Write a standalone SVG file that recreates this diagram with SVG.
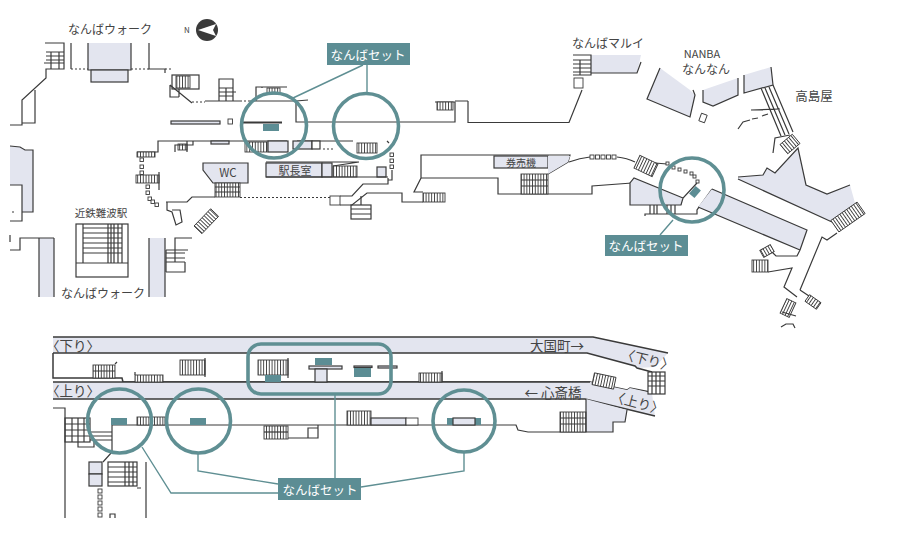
<svg xmlns="http://www.w3.org/2000/svg" width="900" height="542" viewBox="0 0 900 542">
<style>
text{font-family:"Noto Sans CJK JP","Liberation Sans",sans-serif;fill:#444;text-anchor:middle;dominant-baseline:central}
.w{fill:none;stroke:#3a3a3a;stroke-width:1.2}
.l{fill:#e3e5ef;stroke:none}
.lw{fill:#e3e5ef;stroke:#3a3a3a;stroke-width:1.2}
.d{fill:none;stroke:#3a3a3a;stroke-width:1.1;stroke-dasharray:2 2}
.s{fill:url(#v);stroke:#3a3a3a;stroke-width:.9}
.h{fill:url(#hz);stroke:#3a3a3a;stroke-width:.9}
.sq{fill:#fff;stroke:#3a3a3a;stroke-width:.9}
.t{fill:#5c8d94;stroke:none}
.c{fill:none;stroke:#5f8f93;stroke-width:3.6}
.ld{fill:none;stroke:#5f8f93;stroke-width:1.4}
.b{fill:#5c8d94}
.bt{fill:#fff;font-size:12.5px}
.lab{font-size:13.5px}
</style>
<defs>
<pattern id="v" patternUnits="userSpaceOnUse" width="2.8" height="4"><rect width="2.8" height="4" fill="#fff"/><rect width=".9" height="4" fill="#3a3a3a"/></pattern>
<pattern id="hz" patternUnits="userSpaceOnUse" width="4" height="4.4"><rect width="4" height="4.4" fill="#fff"/><rect width="4" height=".9" fill="#3a3a3a"/></pattern>
</defs>
<rect width="900" height="542" fill="#fff"/>

<g id="plan-upper">
<polygon class="l" points="10,146 20,147 25,150 33,150 33,212 22,212 22,185 10,185"/>
<path class="w" d="M10,146 20,147 25,150 33,150V212H22M10,185H22V221H10M12,212h2M10,235v7"/>
<rect class="l" x="39" y="238" width="15" height="59"/>
<path class="w" d="M39,238V297M54,238V297M10,250H20V238H54"/>
<rect class="l" x="149" y="238" width="16" height="59"/>
<path class="w" d="M149,238V297M165,238V297"/>
<path class="w" d="M45,43H64V69H46V78L22,100V125H10M35,90V123H22M71,43V69M149,43V69H165V73M46,52H64M46,56H64M46,60H64M44,63H64M51,52V69M59,52V69"/>
<path class="d" d="M71,69H90M131,69H149M165,69H173"/>
<polygon class="l" points="88,43 131,43 131,70 88,70"/>
<path class="w" d="M88,43V70H131V43"/>
<rect class="lw" x="91" y="70" width="37" height="12"/>
<rect class="w" x="172" y="75" width="27" height="14"/><rect class="s" x="176" y="76" width="14" height="12"/>
<path class="w" d="M170,85V97H179M170,85 192,103M179,89V97"/>
<path class="d" d="M192,102H205M240,101H250"/>
<path class="w" d="M205,101H240M250,101H296V122H455V102H435M468,101V122.500H569L582,90"/>
<path class="w" d="M468,101H455M219,101V79H233V101M219,88H233M219,92H236M219,96H233M226,88V101"/>
<rect class="s" x="267" y="88" width="13" height="6"/><path class="w" d="M256,101V87H287M262,87V88M296,101 308,100"/>
<rect class="s" x="437" y="102" width="16" height="8"/>
<rect class="lw" x="171" y="121" width="49" height="3"/><rect class="sq" x="228" y="119" width="4.500" height="5"/>
<path d="M240,122.500H282" class="w" style="stroke-width:2"/><rect class="t" x="263" y="124" width="16" height="7"/>
<path class="w" d="M137,152H158V141H240M240,141H287V141M297,141H353M387,141 389,143"/>
<rect class="s" x="137" y="152" width="18" height="5"/><rect class="sq" x="140" y="158" width="3.500" height="3.500"/><rect class="sq" x="140" y="165" width="3.500" height="3.500"/><rect class="sq" x="140" y="171" width="3.500" height="3.500"/>
<rect class="s" x="136" y="175" width="23" height="8"/><path class="w" d="M159,172V190"/>
<g class="sq"><rect x="146" y="185" width="3.500" height="3.500"/><rect x="146" y="191" width="3.500" height="3.500"/><rect x="148" y="197" width="3.500" height="3.500"/><rect x="151" y="200" width="3.500" height="3.500"/><rect x="155" y="203" width="3.500" height="3.500"/></g>
<rect class="s" x="178" y="144" width="9" height="6"/><path class="w" d="M175,152V145H193V141M187,141V152"/>
<rect class="lw" x="211" y="141" width="18" height="3"/>
<rect class="s" x="245" y="142" width="22" height="10"/>
<rect class="lw" x="268" y="141" width="20" height="11"/>
<polygon class="lw" points="203,163 248,163 248,183 213,183 203,170"/>
<text x="228" y="172" font-size="11.500">WC</text>
<rect class="s" x="215" y="183" width="25" height="14"/><path class="w" d="M215,187H240M215,192H240"/>
<path class="w" d="M166,202H187L192,197H215M340,196H352L363,184H388V178M392,170V180H388M340,205H352L367,193H402V202H423"/>
<path class="d" d="M240,197.500H330"/>
<rect class="sq" x="330" y="196" width="10" height="9"/>
<path class="w" d="M167,202V210L172,212 176,225 182,222 180,210H172"/>
<rect class="s" x="0" y="0" width="24" height="11" transform="translate(194,226) rotate(-46)"/>
<path class="w" d="M192,238H175V250M166,250H188M166,253H185M166,258H185M166,262H185M166,272H185V262M166,250V272M175,250V262"/>
<rect class="w" x="76" y="224" width="52" height="53"/><path class="w" d="M83,224V263M122,224V263M76,263H128M83,228H122M83,233H122M83,238H122M83,243H122M83,248H122M83,253H122M108,224V263M111,224V263M114,224V263M118,224V263"/>
<rect class="lw" x="293" y="141" width="19" height="8"/><rect class="lw" x="312" y="141" width="8" height="8" style="fill:#fff"/>
<path class="d" d="M323,149H333"/>
<rect class="s" x="357" y="143" width="20" height="10"/>
<path class="w" d="M266,162H359M359,162 333,166"/>
<rect class="lw" x="266" y="163" width="56" height="14"/><text x="295" y="170" font-size="11">駅長室</text>
<rect class="lw" x="322" y="163" width="10" height="14"/>
<rect class="s" x="333" y="166" width="24" height="11"/><rect class="lw" x="377" y="167" width="9" height="10"/>
<path class="w" d="M266,177H388"/>
<g class="sq"><rect x="390" y="153" width="3.500" height="3.500"/><rect x="390" y="159" width="3.500" height="3.500"/><rect x="390" y="165" width="3.500" height="3.500"/></g>
<rect class="w" x="351" y="205" width="20" height="14"/><path class="w" d="M351,209H371M351,214H371M361,196V205"/>
<rect class="s" x="423" y="193" width="22" height="9"/>
<path class="w" d="M421,178V155H570L568,162 548,174M421,178H498V194H592V186L632,183M421,178 414,192H423"/>
<rect class="lw" x="494" y="156" width="54" height="12"/><text x="521" y="162" font-size="10">券売機</text>
<polygon class="l" points="548,156 570,156 568,162 548,174"/>
<rect class="s" x="521" y="174" width="27" height="20"/><path class="w" d="M521,180H548M521,186H548"/>
<path class="w" d="M569,162 Q580,158 590,157M617,157Q627,158 635,162"/>
<g class="sq"><rect x="590" y="155" width="4" height="4"/><rect x="595.500" y="155" width="4" height="4"/><rect x="601" y="155" width="4" height="4"/><rect x="606.500" y="155" width="4" height="4"/><rect x="612" y="155" width="4" height="4"/></g>
<rect class="s" x="-10" y="-7" width="20" height="14" transform="translate(646,166) rotate(25)"/>
<path class="w" d="M655,163 667,164"/>
<g class="sq"><rect x="666" y="162" width="3" height="3"/><rect x="672" y="166" width="3" height="3"/><rect x="678" y="168" width="3" height="3"/><rect x="684" y="170" width="3" height="3"/><rect x="690" y="172" width="3" height="3"/><rect x="693" y="175" width="3" height="3"/><rect x="696" y="180" width="3" height="3"/></g>
<rect class="t" x="-5" y="-3.500" width="10" height="7" transform="translate(695,192) rotate(-50)"/>
<polygon class="l" points="634,178 682,198 682,205 630,205 630,183"/>
<path class="w" d="M697,183 683,198 681,205H630V183L634,178 683,198"/>
<path class="w" d="M645,216V214H675H697V210L712,189M654,205V214M671,205V214M650,205V214M657,205V214M667,205V214M675,205V214"/>
<polygon class="l" points="712,189 807,230 800,250 698,207"/>
<path class="w" d="M712,189 807,230 800,250M698,207 800,250M800,250 797,256H776L770,250"/>
<rect class="s" x="-6" y="-4" width="12" height="8" transform="translate(767,251) rotate(-30)"/>
<rect class="s" x="752" y="260" width="16" height="12"/><path class="w" d="M768,272 792,268 784,287 797,297M800,290 822,237 827,240 837,233"/>
<rect class="s" x="-5" y="-8" width="10" height="16" transform="translate(788,308) rotate(25)"/>
<rect class="s" x="-7" y="-4" width="14" height="8" transform="translate(813,302) rotate(35)"/>
<path class="w" d="M800,290 809,296M782,312 796,316M781,327 786,324H793L795,328"/>
<polygon class="l" points="738,177 763,175 767,168 775,173 798,148 806,185 827,194 850,185 855,203 832,222 738,179"/>
<path class="w" d="M738,177 763,175 767,168 775,173 798,148 806,185 827,194 850,185M738,179 832,222"/>
<rect class="s" x="-16" y="-7" width="32" height="14" transform="translate(848,217) rotate(-35)"/>
<path class="w" d="M765,88 785,135M769,87 789,134M773,85 793,132M761,88 781,136M751,110 780,109"/>
<path class="w" d="M773,153 775,138 790,135"/>
<rect class="s" x="-8" y="-6" width="16" height="12" transform="translate(790,144) rotate(-40)"/>
<path class="w" d="M738,129 743,122 750,120M752,119 758,118M762,116 768,114"/>
<polygon class="l" points="660,68 647,99 690,117 695,95 690,90"/>
<path class="w" d="M660,68 647,99 690,117 695,95 693,90"/>
<polygon class="l" points="703,90 703,102 713,106 738,95 738,78"/>
<path class="w" d="M703,90V102L713,106 738,95V78"/>
<polygon class="l" points="771,67 744,75 744,93 773,85"/>
<path class="w" d="M771,67 773,85 744,93V75"/>
<rect class="sq" x="-3" y="-4" width="6" height="8" transform="translate(703,118) rotate(20)"/>
<polygon class="l" points="591,55 641,55 637,73 591,73"/>
<path class="w" d="M641,62 637,73H591"/>
<path class="w" d="M573,55H591V75H573M573,60H591M573,64H591M573,68H591M573,72H591M580,60V75"/>
<rect class="sq" x="574" y="78" width="9" height="10"/>
</g>

<g id="plan-lower">
<polygon class="l" points="53,337 593,337 668,353 655,367 637,368 635,366 587,353 53,353"/>
<path class="w" d="M53,337H593L668,353M53,353H587L635,366 637,368 652,372M53,353V378H122L123,382H590L627,390 630,388 650,392" style="stroke-width:1.500"/>
<polygon class="l" points="53,382 590,382 627,390 630,388 652,393 655,416 585,399 53,399"/>
<path class="w" d="M53,382H590M53,399H585L655,416" style="stroke-width:1.500"/>
<rect x="648" y="372" width="17" height="22" class="w" style="fill:#fff"/><path class="w" d="M652,372V394M656,372V394M660,372V394M648,376H665M648,381H665M648,386H665"/>
<rect class="s" x="93" y="365" width="22" height="13"/><path class="w" d="M93,371H115M115,364 117,362"/>
<rect class="s" x="135" y="375" width="28" height="7"/><path class="w" d="M135,372V375"/>
<rect class="s" x="180" y="360" width="25" height="15"/><path class="w" d="M205,358V377"/>
<rect class="s" x="258" y="360" width="30" height="15"/><path class="w" d="M288,358V378"/>
<rect class="t" x="265" y="375" width="16" height="7"/>
<rect class="t" x="315" y="358" width="17" height="7"/><rect class="lw" x="309" y="366" width="33" height="3"/><rect class="lw" x="315" y="369" width="12" height="13"/>
<rect class="lw" x="354" y="366" width="18" height="1.500"/><rect class="t" x="354" y="368" width="17" height="9"/><rect class="lw" x="378" y="366" width="19" height="2"/>
<rect class="s" x="419" y="373" width="23" height="9"/><path class="w" d="M442,371V382"/>
<rect class="s" x="-11" y="-6" width="22" height="12" transform="translate(604,381) rotate(12)"/>
<polygon class="l" points="586,399 627,410 625,422 613,422 613,432 586,432"/>
<path class="w" d="M586,399V432M627,410 625,422H613V432H528L518,430 516,425H112V452L103,462M318,425V438H264M308,428H318V438H308Z"/>
<rect class="s" x="560" y="412" width="26" height="20"/><path class="w" d="M560,418H586M560,424H586"/>
<path class="w" d="M53,408H65V518M146,462V518"/>
<rect class="w" x="65" y="418" width="25" height="24"/><path class="w" d="M65,424H90M65,430H90M65,436H90M72,418V442M78,418V442M84,418V442M78,442V447H94V440M90,432H112M90,436H112M90,440H112"/>
<rect class="t" x="111" y="418" width="16" height="7"/>
<rect class="s" x="137" y="417" width="28" height="8"/><rect class="t" x="190" y="418" width="16" height="7"/>
<rect class="s" x="264" y="426" width="24" height="13"/><path class="w" d="M264,432H288"/>
<rect class="s" x="347" y="411" width="24" height="14"/>
<rect class="lw" x="371" y="418" width="35" height="7"/><rect class="sq" x="406" y="418" width="12" height="7"/>
<rect class="t" x="447" y="418" width="6" height="7"/><rect class="t" x="475" y="418" width="6" height="7"/><rect class="lw" x="453" y="418" width="22" height="7"/>
<rect class="lw" x="89" y="462" width="13" height="12"/><rect class="lw" x="89" y="474" width="13" height="12"/>
<rect class="w" x="108" y="462" width="29" height="24"/><path class="w" d="M108,467H137M108,472H137M108,477H137M108,482H137M125,462V486M129,462V486M133,462V486M137,488H141"/>
<g class="sq"><rect x="98" y="489" width="4" height="4"/><rect x="98" y="495" width="4" height="4"/><rect x="98" y="501" width="4" height="4"/><rect x="98" y="507" width="4" height="4"/><rect x="98" y="513" width="4" height="4"/></g>
<path class="w" d="M110,518V514H115V518"/>
</g>

<g id="labels">
<text x="110" y="28" font-size="12">なんばウォーク</text>
<text x="187" y="29" font-size="8">N</text>
<circle cx="207" cy="30" r="11" fill="#3a3a3a"/><polygon points="198,30 216,24 213,30 216,36" fill="#fff"/>
<text x="101" y="212" font-size="10.500">近鉄難波駅</text>
<text x="103" y="292" font-size="12">なんばウォーク</text>
<text x="608" y="42" font-size="12">なんばマルイ</text>
<text x="702" y="53" font-size="11">NANBA</text>
<text x="706" y="68" font-size="12">なんなん</text>
<text x="814" y="95" font-size="12.500">高島屋</text>
<text x="73" y="345" class="lab">〈下り〉</text>
<text x="73" y="390" class="lab">〈上り〉</text>
<text x="557" y="345" class="lab">大国町→</text>
<text x="553" y="392" class="lab">← 心斎橋</text>
<text class="lab" transform="translate(648,359) rotate(14)">〈下り〉</text>
<text class="lab" transform="translate(638,402) rotate(15)">〈上り〉</text>
</g>

<g id="connectors">
<path class="ld" d="M363,65 293,98M367,65V93M673,220 660,235M335,394V478M142,447 171,493H278M198,453V471L278,484M464,452V471L361,487"/>
</g>

<g id="highlight-1"><circle class="c" cx="274" cy="125.500" r="32.500"/></g>
<g id="highlight-2"><circle class="c" cx="366" cy="126" r="32.500"/></g>
<g id="highlight-3"><circle class="c" cx="692" cy="190" r="32"/></g>
<g id="highlight-4"><circle class="c" cx="119.500" cy="421" r="32"/></g>
<g id="highlight-5"><circle class="c" cx="198.500" cy="421" r="32"/></g>
<g id="highlight-6"><circle class="c" cx="464" cy="421" r="31"/></g>
<g id="highlight-7"><rect class="c" x="248" y="344" width="143" height="50" rx="13"/></g>

<g id="callout-1"><rect class="b" x="327" y="43" width="83" height="22"/><text class="bt" x="368" y="54">なんばセット</text></g>
<g id="callout-2"><rect class="b" x="605" y="235" width="83" height="21"/><text class="bt" x="646" y="245">なんばセット</text></g>
<g id="callout-3"><rect class="b" x="278" y="478" width="83" height="22"/><text class="bt" x="320" y="489">なんばセット</text></g>
</svg>
